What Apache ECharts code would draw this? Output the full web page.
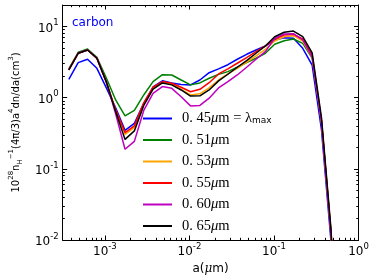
<!DOCTYPE html>
<html><head><meta charset="utf-8">
<script src="https://cdn.jsdelivr.net/npm/echarts@6/dist/echarts.min.js"></script>
<style>html,body{margin:0;padding:0;background:#fff}#c{width:374px;height:280px}</style>
</head><body><div id="c"></div>
<script>
const A_UM = [3.74e-4, 4.83e-4, 6.23e-4, 8.04e-4, 1.04e-3, 1.34e-3, 1.73e-3, 2.23e-3, 2.88e-3, 3.71e-3,
  4.79e-3, 6.18e-3, 7.98e-3, 1.03e-2, 1.33e-2, 1.71e-2, 2.21e-2, 2.85e-2, 3.68e-2, 4.75e-2,
  6.13e-2, 7.91e-2, 0.102, 0.132, 0.170, 0.219, 0.283, 0.365, 0.471, 0.608];
const S045 = [1.81, 3.10, 3.46, 2.58, 1.37, 0.717, 0.347, 0.435, 0.829, 1.41, 1.72, 1.61, 1.53, 1.51, 1.77, 2.24, 2.53, 2.90, 3.46, 4.06, 4.67, 5.31, 6.45, 6.94, 6.81, 4.93, 2.87, 0.352, 0.0101, 1e-4];
const S051 = [2.53, 4.33, 4.82, 3.69, 1.89, 0.928, 0.554, 0.661, 1.09, 1.68, 2.10, 2.08, 1.77, 1.51, 1.61, 1.87, 2.12, 2.32, 2.67, 3.10, 3.57, 4.20, 5.61, 6.30, 6.66, 5.79, 3.60, 0.442, 0.0127, 1e-4];
const S053 = [2.45, 4.20, 4.67, 3.57, 1.66, 0.661, 0.305, 0.382, 0.816, 1.35, 1.63, 1.53, 1.31, 1.09, 1.13, 1.37, 1.77, 2.15, 2.58, 3.14, 3.85, 4.77, 6.24, 7.17, 7.41, 6.24, 3.72, 0.456, 0.0131, 1e-4];
const S055 = [2.45, 4.20, 4.67, 3.57, 1.66, 0.672, 0.323, 0.401, 0.843, 1.40, 1.68, 1.59, 1.40, 1.21, 1.31, 1.62, 2.15, 2.53, 3.04, 3.64, 4.42, 5.31, 6.66, 7.58, 7.75, 6.66, 3.91, 0.471, 0.0135, 1e-4];
const S060 = [2.45, 4.20, 4.67, 3.57, 1.66, 0.591, 0.188, 0.243, 0.661, 1.15, 1.43, 1.35, 1.03, 0.765, 0.777, 0.981, 1.37, 1.68, 2.08, 2.67, 3.46, 4.42, 6.81, 7.82, 7.90, 6.45, 3.72, 0.456, 0.0131, 1e-4];
const S065 = [2.45, 4.20, 4.67, 3.57, 1.66, 0.640, 0.259, 0.341, 0.777, 1.32, 1.61, 1.51, 1.28, 1.05, 1.06, 1.28, 1.72, 2.13, 2.67, 3.30, 4.20, 5.31, 7.17, 8.27, 8.62, 7.17, 4.24, 0.519, 0.0149, 1e-4];
const SERIES_NAMES = ['0.45', '0.51', '0.53', '0.55', '0.60', '0.65'];
const SERIES_DATA = [S045, S051, S053, S055, S060, S065];
const COLORS = ['#0000ff', '#008000', '#ffa500', '#ff0000', '#bf00bf', '#000000'];
const X_TICKS = [1e-3, 1e-2, 1e-1, 1];
const Y_TICKS = [1e-2, 1e-1, 1, 10];
const X_MIN = 3.1623e-4, X_MAX = 1, Y_MIN = 0.01, Y_MAX = 20;

function minors(lo, hi) {
  const out = [];
  for (let e = -5; e <= 2; e++) {
    for (let m = 2; m <= 9; m++) {
      const v = m * Math.pow(10, e);
      if (v > lo * 1.0001 && v < hi * 0.9999) out.push(v);
    }
  }
  return out;
}
const xMinor = minors(X_MIN, X_MAX);
const yMinor = minors(Y_MIN, Y_MAX);

const tickFmt = v => '{b|10}{s|' + Math.round(Math.log10(v)) + '}';
const tickRich = {
  b: {fontFamily: 'DejaVu Sans', fontSize: 12, color: '#000', verticalAlign: 'bottom', lineHeight: 16},
  s: {fontFamily: 'DejaVu Sans', fontSize: 8.5, color: '#000', verticalAlign: 'top', lineHeight: 16}
};
const lineC = {color: '#000', width: 1};

function axis(kind, pos, major, isMinor, withLine, withLabel, extra) {
  const custom = isMinor ? (kind === 'x' ? xMinor : yMinor) : (kind === 'x' ? X_TICKS : Y_TICKS);
  return Object.assign({
    type: 'log', logBase: 10, position: pos,
    min: kind === 'x' ? X_MIN : Y_MIN, max: kind === 'x' ? X_MAX : Y_MAX,
    axisLine: {show: withLine, lineStyle: lineC, onZero: false},
    axisTick: {show: true, inside: true, length: isMinor ? 2.2 : 4.5, lineStyle: lineC, customValues: custom},
    axisLabel: withLabel ? {show: true, customValues: custom, formatter: tickFmt, rich: tickRich, margin: kind === 'x' ? 2 : 4} : {show: false},
    splitLine: {show: false}, minorTick: {show: false}, minorSplitLine: {show: false}
  }, extra || {});
}

const yNameRich = {
  b: {fontFamily: 'DejaVu Sans', fontSize: 10, color: '#000', verticalAlign: 'middle', lineHeight: 16},
  s: {fontFamily: 'DejaVu Sans', fontSize: 7, color: '#000', verticalAlign: 'top', lineHeight: 16},
  u: {fontFamily: 'DejaVu Sans', fontSize: 7, color: '#000', verticalAlign: 'bottom', lineHeight: 16}
};
const xNameRich = {
  b: {fontFamily: 'DejaVu Sans', fontSize: 12, color: '#000'},
  i: {fontFamily: 'DejaVu Serif', fontStyle: 'italic', fontSize: 12, color: '#000'}
};
const legRich = {
  n: {fontFamily: 'Liberation Serif', fontSize: 14.5, color: '#000', verticalAlign: 'middle', lineHeight: 14},
  i: {fontFamily: 'Liberation Serif', fontStyle: 'italic', fontSize: 14.5, color: '#000', verticalAlign: 'middle', lineHeight: 14},
  m: {fontFamily: 'DejaVu Sans', fontSize: 9, color: '#000', verticalAlign: 'bottom', lineHeight: 14}
};

const chart = echarts.init(document.getElementById('c'), null, {renderer: 'canvas'});
chart.setOption({
  animation: false,
  backgroundColor: '#fff',
  title: {text: 'carbon', left: 72, top: 17, padding: 0,
    textStyle: {color: '#0000ff', fontFamily: 'DejaVu Sans', fontSize: 12, fontWeight: 'normal'}},
  grid: {left: 53, right: 15.5, top: 5, bottom: 40, containLabel: false},
  legend: {
    orient: 'vertical', left: 143, top: 111, padding: 0, itemWidth: 29, itemHeight: 14, itemGap: 6.5,
    icon: 'path://M0,0H290V20H0Z',
    data: SERIES_NAMES,
    formatter: n => {
      const p = n.split('.');
      let s = '{n|' + p[0] + '. ' + p[1] + '}{i|μ}{n|m}';
      if (n === '0.45') s += '{n| = λ}{m|max}';
      return s;
    },
    textStyle: {rich: legRich, padding: [0, 0, 0, 5]}
  },
  xAxis: [
    axis('x', 'bottom', true, false, true, true, {name: '{b|a(}{i|μ}{b|m)}', nameLocation: 'middle', nameGap: 20,
      nameTextStyle: {rich: xNameRich}}),
    axis('x', 'bottom', false, true, false, false),
    axis('x', 'top', true, false, true, false),
    axis('x', 'top', false, true, false, false)
  ],
  yAxis: [
    axis('y', 'left', true, false, true, true, {
      name: '{b|10}{s|28}{b|n}{u|H}{s|−1}{b|(4π/3)a}{s|4}{b|dn/da(cm}{s|3}{b|)}',
      nameLocation: 'middle', nameRotate: 90, nameGap: 37, nameTextStyle: {rich: yNameRich}}),
    axis('y', 'left', false, true, false, false),
    axis('y', 'right', true, false, true, false),
    axis('y', 'right', false, true, false, false)
  ],
  series: SERIES_NAMES.map((nm, i) => ({
    name: nm, type: 'line', xAxisIndex: 0, yAxisIndex: 0,
    data: A_UM.map((a, k) => [a, SERIES_DATA[i][k]]),
    symbol: 'none', smooth: false, clip: true,
    lineStyle: {color: COLORS[i], width: 1.5}, itemStyle: {color: COLORS[i]}
  }))
});
</script></body></html>
